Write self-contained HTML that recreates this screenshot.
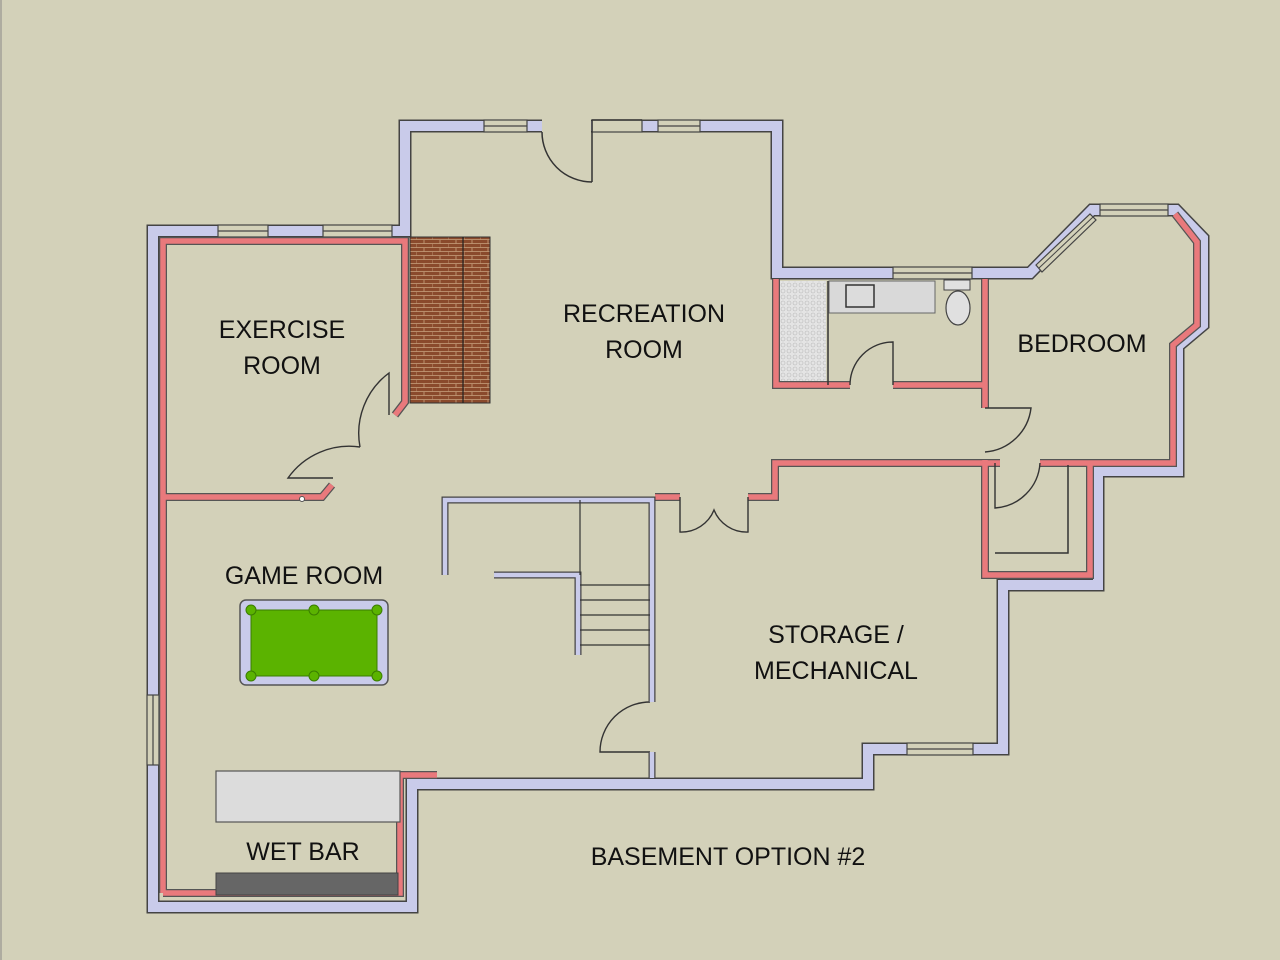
<!DOCTYPE html>
<html><head><meta charset="utf-8"><style>
html,body{margin:0;padding:0;background:#d3d1b9;}
svg{display:block}
text{font-family:"Liberation Sans",sans-serif;fill:#111;font-size:25px;text-anchor:middle}
</style></head><body>
<svg width="1280" height="960" viewBox="0 0 1280 960" xmlns="http://www.w3.org/2000/svg">
<defs>
<pattern id="brick" width="16" height="8" patternUnits="userSpaceOnUse">
<rect width="16" height="8" fill="#8a4a2c"/>
<path d="M0 7.5H16M8 0V3.5M0 3.5H16M0 4V7.5" stroke="#c9a27e" stroke-width="0.8"/>
</pattern>
<pattern id="tile" width="6" height="6" patternUnits="userSpaceOnUse">
<rect width="6" height="6" fill="#e4e4e4"/><circle cx="3" cy="3" r="2" fill="none" stroke="#bbb" stroke-width="0.6"/>
</pattern>
</defs>
<rect width="1280" height="960" fill="#d3d1b9"/>
<line x1="1" y1="0" x2="1" y2="960" stroke="#888" stroke-width="1"/>

<g fill="none" stroke-linejoin="miter">
<path d="M153 907 V231 H405 V126 H777 V273 H1030 L1092 210 H1176 L1203 238 V325 L1178 346 V471 H1098 V585 H1003 V749 H868 V784 H412 V907 Z" stroke="#444" stroke-width="13"/>
<path d="M153 907 V231 H405 V126 H777 V273 H1030 L1092 210 H1176 L1203 238 V325 L1178 346 V471 H1098 V585 H1003 V749 H868 V784 H412 V907 Z" stroke="#c9cbea" stroke-width="10"/>
</g>
<g fill="#d3d1b9" stroke="#444" stroke-width="1.2">
<rect x="218" y="225" width="50" height="12"/><line x1="218" y1="231" x2="268" y2="231"/>
<rect x="323" y="225" width="69" height="12"/><line x1="323" y1="231" x2="392" y2="231"/>
<rect x="484" y="120" width="43" height="12"/><line x1="484" y1="126" x2="527" y2="126"/>
<rect x="658" y="120" width="42" height="12"/><line x1="658" y1="126" x2="700" y2="126"/>
<rect x="592" y="120" width="50" height="12"/>
<rect x="893" y="267" width="79" height="12"/><line x1="893" y1="273" x2="972" y2="273"/>
<rect x="1100" y="204" width="68" height="12"/><line x1="1100" y1="210" x2="1168" y2="210"/>
<rect x="907" y="743" width="66" height="12"/><line x1="907" y1="749" x2="973" y2="749"/>
<rect x="147" y="695" width="12" height="70"/><line x1="153" y1="695" x2="153" y2="765"/>
</g>
<polygon points="1036,265 1090,214 1096,220 1042,272" fill="#d3d1b9" stroke="#444" stroke-width="1.2"/>
<line x1="1039" y1="268" x2="1093" y2="217" stroke="#444" stroke-width="1"/>
<rect x="542" y="118" width="49" height="16" fill="#d3d1b9"/>
<path d="M592 120 H642 M592 120 V182 M542 132 A50 50 0 0 0 592 182" fill="none" stroke="#333" stroke-width="1.5"/>

<rect x="410" y="237" width="80" height="166" fill="url(#brick)" stroke="#333" stroke-width="1"/>
<line x1="463" y1="237" x2="463" y2="403" stroke="#222" stroke-width="1.2"/>

<g fill="none" stroke-linejoin="miter" stroke-linecap="butt">
<g stroke="#555" stroke-width="8">
<path d="M163 893 V241 H405 V402 L395 415"/>
<path d="M163 893 H400 V775 H437"/>
<path d="M163 497 H322 L332 485"/>
<path d="M655 497 H680 M748 497 H775 V463 H1000 M1040 463 H1173 V345 L1197 325 V242 L1175 214"/>
<path d="M850 385 H776 V279 M893 385 H985 V279 M985 385 V408"/>
<path d="M985 460 V575 H1090 V463"/>
</g>
<g stroke="#e9797c" stroke-width="5.5">
<path d="M163 893 V241 H405 V402 L395 415"/>
<path d="M163 893 H400 V775 H437"/>
<path d="M163 497 H322 L332 485"/>
<path d="M655 497 H680 M748 497 H775 V463 H1000 M1040 463 H1173 V345 L1197 325 V242 L1175 214"/>
<path d="M850 385 H776 V279 M893 385 H985 V279 M985 385 V408"/>
<path d="M985 460 V575 H1090 V463"/>
</g>
</g>
<circle cx="302" cy="499" r="2.5" fill="#fff" stroke="#555"/>

<path d="M1068 465 V553 H995" fill="none" stroke="#333" stroke-width="1.5"/>

<g fill="none" stroke="#333" stroke-width="1.4">
<path d="M389 415 V373 A75 75 0 0 0 360 447"/>
<path d="M333 478 H288 A75 75 0 0 1 360 447"/>
<path d="M680 497 V532 A35 35 0 0 0 714 510 A35 35 0 0 0 748 532 V497"/>
<path d="M850 385 A43 43 0 0 1 893 342 V385"/>
<path d="M985 408 H1031 A50 50 0 0 1 985 452"/>
<path d="M995 463 V508 A48 48 0 0 0 1040 463"/>
<path d="M650 702 A50 50 0 0 0 600 752 H650"/>
</g>

<g fill="none">
<path d="M445 575 V500 H652 V702 M652 752 V778 M494 575 H578 V655" stroke="#444" stroke-width="7"/>
<path d="M445 575 V500 H652 V702 M652 752 V778 M494 575 H578 V655" stroke="#c9cbea" stroke-width="4.5"/>
<path d="M580 500 V575 M580 585 H650 M580 600 H650 M580 615 H650 M580 630 H650 M580 645 H650" stroke="#333" stroke-width="1.2"/>
</g>

<rect x="780" y="281" width="46" height="100" fill="url(#tile)"/>
<line x1="828" y1="281" x2="828" y2="385" stroke="#333" stroke-width="1.5"/>
<rect x="829" y="281" width="106" height="32" fill="#d9d9d9" stroke="#666" stroke-width="1"/>
<rect x="846" y="285" width="28" height="22" fill="#dcdcdc" stroke="#333" stroke-width="1.5"/>
<rect x="944" y="280" width="26" height="10" fill="#e0e0e0" stroke="#444"/>
<ellipse cx="958" cy="308" rx="12" ry="17" fill="#e0e0e0" stroke="#444" stroke-width="1.2"/>

<rect x="240" y="600" width="148" height="85" rx="6" fill="#c9cbea" stroke="#555" stroke-width="1.5"/>
<rect x="251" y="610" width="126" height="66" fill="#5bb300" stroke="#3a7d00"/>
<g fill="#5bb300" stroke="#3a7d00">
<circle cx="251" cy="610" r="5"/><circle cx="314" cy="610" r="5"/><circle cx="377" cy="610" r="5"/>
<circle cx="251" cy="676" r="5"/><circle cx="314" cy="676" r="5"/><circle cx="377" cy="676" r="5"/>
</g>

<rect x="216" y="771" width="184" height="51" fill="#dcdcdc" stroke="#555" stroke-width="1.2"/>
<rect x="216" y="873" width="182" height="22" fill="#666" stroke="#444"/>

<text x="282" y="338">EXERCISE</text>
<text x="282" y="374">ROOM</text>
<text x="644" y="322">RECREATION</text>
<text x="644" y="358">ROOM</text>
<text x="1082" y="352">BEDROOM</text>
<text x="304" y="584">GAME ROOM</text>
<text x="836" y="643">STORAGE /</text>
<text x="836" y="679">MECHANICAL</text>
<text x="303" y="860">WET BAR</text>
<text x="728" y="865">BASEMENT OPTION #2</text>
</svg>
</body></html>
